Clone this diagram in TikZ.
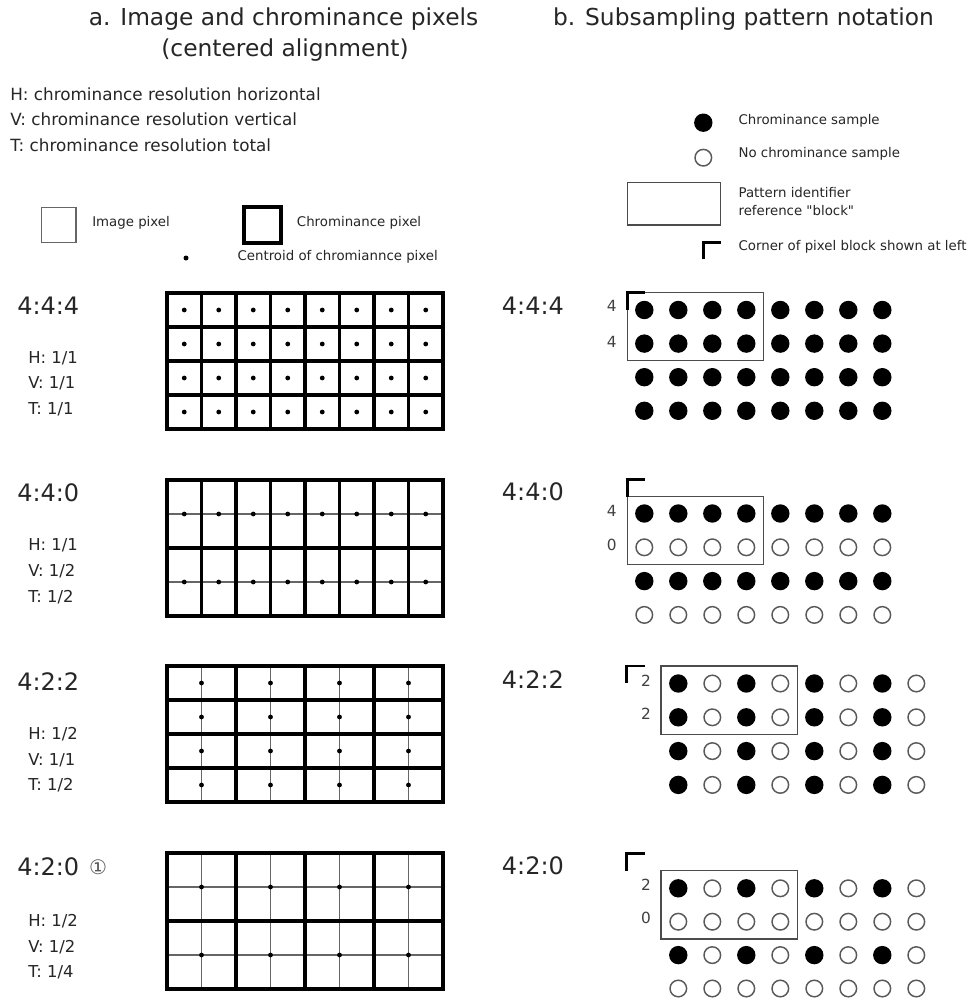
\documentclass[tikz,border=0pt]{standalone}
\usepackage{fontspec}
\setmainfont{DejaVu Sans}[Ligatures=TeXOff]
\begin{document}
\begin{tikzpicture}[x=0.75pt,y=-0.75pt,
  chromaline/.style={line width=2.7pt,black,line cap=rect},
  imgline/.style={line width=0.9pt,black!60},
  cdot/.style={fill=black},
  fullc/.style={fill=black},
  emptyc/.style={draw=black!65,line width=1.1pt,fill=white},
  blockbox/.style={draw=black!70,line width=1.1pt},
  cornermark/.style={line width=2.2pt,black},
  title/.style={font=\fontsize{17.5}{21}\selectfont,text=black!85,inner sep=0pt},
  deftext/.style={font=\fontsize{12.6}{15}\selectfont,text=black!85,anchor=west,inner sep=0pt},
  small/.style={font=\fontsize{10}{12}\selectfont,text=black!85,anchor=west,inner sep=0pt},
  ratio/.style={font=\fontsize{18}{21}\selectfont,text=black!85,anchor=west,inner sep=0pt},
  res/.style={font=\fontsize{12.3}{14}\selectfont,text=black!85,anchor=west,inner sep=0pt},
  digit/.style={font=\fontsize{11.5}{13}\selectfont,text=black!75,inner sep=0pt}
]
\useasboundingbox[fill=white] (0,0) rectangle (977,999);

% ---------- titles ----------
\node[title,anchor=base] (ta1) at (283.5,26) {a. Image and chrominance pixels};
\node[title,anchor=base] (ta2) at (285,57) {(centered alignment)};
\node[title,anchor=base] (tb) at (743.5,26) {b. Subsampling pattern notation};

% ---------- definitions ----------
\node[deftext] (dh) at (10,94.5) {H: chrominance resolution horizontal};
\node[deftext] (dv) at (10,119.5) {V: chrominance resolution vertical};
\node[deftext] (dt) at (10,145) {T: chrominance resolution total};

% ---------- left legend ----------
\draw[imgline] (41.7,207.7) rectangle (76,242.3);
\node[small] (limg) at (92,223) {Image pixel};
\draw[line width=3pt,black] (244.3,206.7) rectangle (281,242.7);
\node[small] (lchr) at (296.7,222.5) {Chrominance pixel};
\fill[cdot] (186,258) circle (2.5);
\node[small] (lcen) at (237.3,257) {Centroid of chromiannce pixel};

% ---------- right legend ----------
\fill[fullc] (703.3,122.7) circle (9.2);
\node[small] (rl1) at (738.3,121) {Chrominance sample};
\draw[emptyc] (703.3,157.7) circle (8.3);
\node[small] (rl2) at (738.3,154) {No chrominance sample};
\draw[blockbox] (627.3,182.3) rectangle (720.7,225);
\node[small] (rl3) at (738.3,193) {Pattern identifier};
\node[small] (rl4) at (738.3,211) {reference "block"};
\draw[cornermark] (703.3,259) -- (703.3,242.3) -- (720.7,242.3);
\node[small] (rl5) at (738.3,247) {Corner of pixel block shown at left};

% ---------- left labels ----------
\node[ratio] (l1) at (17,305.5) {4:4:4};
\node[res] (l1h) at (28,358) {H: 1/1};
\node[res] (l1v) at (28,383.5) {V: 1/1};
\node[res] (l1t) at (28,409) {T: 1/1};

\node[ratio] (l2) at (17,492.5) {4:4:0};
\node[res] (l2h) at (28,545.5) {H: 1/1};
\node[res] (l2v) at (28,571) {V: 1/2};
\node[res] (l2t) at (28,597) {T: 1/2};

\node[ratio] (l3) at (17,681.5) {4:2:2};
\node[res] (l3h) at (28,734.5) {H: 1/2};
\node[res] (l3v) at (28,760) {V: 1/1};
\node[res] (l3t) at (28,785.5) {T: 1/2};

\node[ratio] (l4) at (17,866.5) {4:2:0};
\node[font=\fontsize{15}{17}\selectfont,text=black!65,inner sep=0pt] (l4c) at (98,867) {①};
\node[res] (l4h) at (28,921.5) {H: 1/2};
\node[res] (l4v) at (28,947) {V: 1/2};
\node[res] (l4t) at (28,972.5) {T: 1/4};

% ---------- grids ----------
% 4:4:4
\begin{scope}[shift={(167,293)}]
  \foreach \i in {0,...,8} \draw[chromaline] (\i*34.5,0) -- (\i*34.5,136);
  \foreach \j in {0,...,4} \draw[chromaline] (0,\j*34) -- (276,\j*34);
  \foreach \i in {0,...,7} \foreach \j in {0,...,3}
    \fill[cdot] (\i*34.5+17.25,\j*34+17) circle (2.4);
\end{scope}
% 4:4:0
\begin{scope}[shift={(167,480)}]
  \foreach \j in {1,3} \draw[imgline] (0,\j*34) -- (276,\j*34);
  \foreach \i in {0,...,8} \draw[chromaline] (\i*34.5,0) -- (\i*34.5,136);
  \foreach \j in {0,2,4} \draw[chromaline] (0,\j*34) -- (276,\j*34);
  \foreach \i in {0,...,7} \foreach \j in {1,3}
    \fill[cdot] (\i*34.5+17.25,\j*34) circle (2.4);
\end{scope}
% 4:2:2
\begin{scope}[shift={(167,666)}]
  \foreach \i in {1,3,5,7} \draw[imgline] (\i*34.5,0) -- (\i*34.5,136);
  \foreach \i in {0,2,4,6,8} \draw[chromaline] (\i*34.5,0) -- (\i*34.5,136);
  \foreach \j in {0,...,4} \draw[chromaline] (0,\j*34) -- (276,\j*34);
  \foreach \i in {1,3,5,7} \foreach \j in {0,...,3}
    \fill[cdot] (\i*34.5,\j*34+17) circle (2.4);
\end{scope}
% 4:2:0
\begin{scope}[shift={(167,853)}]
  \foreach \i in {1,3,5,7} \draw[imgline] (\i*34.5,0) -- (\i*34.5,136);
  \foreach \j in {1,3} \draw[imgline] (0,\j*34) -- (276,\j*34);
  \foreach \i in {0,2,4,6,8} \draw[chromaline] (\i*34.5,0) -- (\i*34.5,136);
  \foreach \j in {0,2,4} \draw[chromaline] (0,\j*34) -- (276,\j*34);
  \foreach \i in {1,3,5,7} \foreach \j in {1,3}
    \fill[cdot] (\i*34.5,\j*34) circle (2.4);
\end{scope}

% ---------- right labels ----------
\node[ratio] (r1) at (501.7,305.5) {4:4:4};
\node[ratio] (r2) at (501.7,492) {4:4:0};
\node[ratio] (r3) at (501.7,680) {4:2:2};
\node[ratio] (r4) at (501.7,865.5) {4:2:0};

% ---------- 4:4:4 pattern ----------
\draw[blockbox] (627.3,292.7) rectangle (763.3,360.7);
\draw[cornermark] (627.3,309.5) -- (627.3,292.7) -- (645,292.7);
\node[digit] (d1a) at (611.7,306) {4};
\node[digit] (d1b) at (611.7,342) {4};
\foreach \k in {0,...,7} \foreach \r in {0,...,3}
  \fill[fullc] (644.3+\k*34,310+\r*33.6) circle (9.2);

% ---------- 4:4:0 pattern ----------
\draw[blockbox] (627.3,496.7) rectangle (763.3,564.7);
\draw[cornermark] (627.3,496.7) -- (627.3,479.3) -- (645,479.3);
\node[digit] (d2a) at (611.7,511) {4};
\node[digit] (d2b) at (611.7,545) {0};
\foreach \k in {0,...,7} {
  \fill[fullc] (644.3+\k*34,513.5) circle (9.2);
  \draw[emptyc] (644.3+\k*34,547.3) circle (8.3);
  \fill[fullc] (644.3+\k*34,581.1) circle (9.2);
  \draw[emptyc] (644.3+\k*34,614.9) circle (8.3);
}

% ---------- 4:2:2 pattern ----------
\draw[blockbox] (661,666) rectangle (797.3,734.3);
\draw[cornermark] (626.7,683) -- (626.7,666) -- (645,666);
\node[digit] (d3a) at (646,681) {2};
\node[digit] (d3b) at (646,713.5) {2};
\foreach \r in {0,...,3} {
  \foreach \k in {0,2,4,6} \fill[fullc] (678.3+\k*34,683.5+\r*33.8) circle (9.2);
  \foreach \k in {1,3,5,7} \draw[emptyc] (678.3+\k*34,683.5+\r*33.8) circle (8.3);
}

% ---------- 4:2:0 pattern ----------
\draw[blockbox] (661,870.7) rectangle (797.3,939);
\draw[cornermark] (626.7,870.7) -- (626.7,853.3) -- (645,853.3);
\node[digit] (d4a) at (646,885) {2};
\node[digit] (d4b) at (646,917.5) {0};
\foreach \r in {0,2} {
  \foreach \k in {0,2,4,6} \fill[fullc] (678.3+\k*34,888.3+\r*33.4) circle (9.2);
  \foreach \k in {1,3,5,7} \draw[emptyc] (678.3+\k*34,888.3+\r*33.4) circle (8.3);
}
\foreach \r in {1,3}
  \foreach \k in {0,...,7} \draw[emptyc] (678.3+\k*34,888.3+\r*33.4) circle (8.3);
\end{tikzpicture}
\end{document}
